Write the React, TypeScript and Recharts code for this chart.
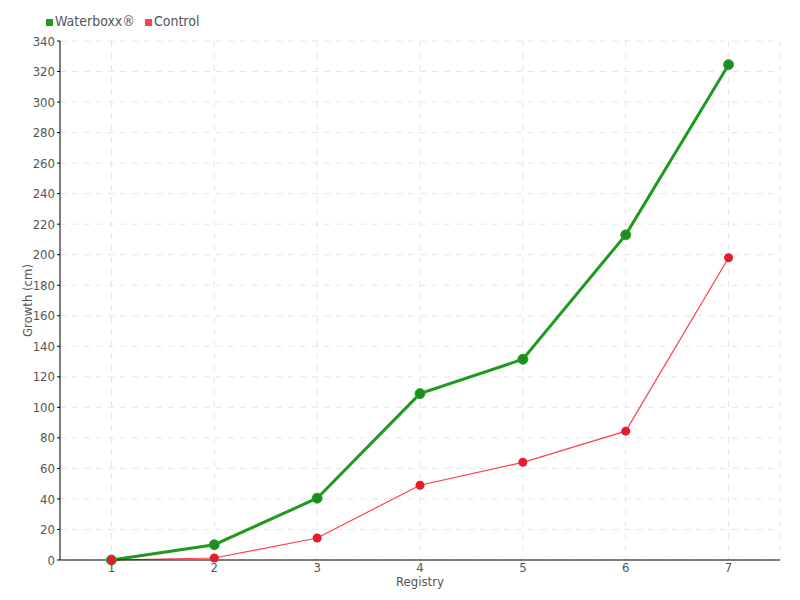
import {
  LineChart,
  Line,
  XAxis,
  YAxis,
  CartesianGrid,
  Legend,
} from "recharts";

const registries = ["1", "2", "3", "4", "5", "6", "7"];
const waterboxx = [0, 10, 40.5, 109, 131.5, 213, 324.5];
const control = [0, 1.3, 14.4, 49, 64, 84.4, 198];
const yTicks = [0, 20, 40, 60, 80, 100, 120, 140, 160, 180, 200, 220, 240, 260, 280, 300, 320, 340];

const FONT = "'DejaVu Sans Condensed', 'DejaVu Sans', sans-serif";
const TEXT = "#555";

const data = registries.map((r, i) => ({
  registry: r,
  waterboxx: waterboxx[i],
  control: control[i],
}));

const legendOrder: Record<string, number> = { waterboxx: 0, control: 1 };

export default function App() {
  return (
    <div style={{ position: "absolute", left: 0, top: 0, width: 800, height: 600, background: "#fff", fontFamily: FONT }}>
      <LineChart
        width={800}
        height={600}
        data={data}
        margin={{ top: 23, right: 20, bottom: 0, left: 0 }}
      >
        <CartesianGrid stroke="#e6e6e6" strokeDasharray="6 6" />
        <XAxis
          dataKey="registry"
          scale="band"
          height={40}
          axisLine={{ stroke: "#000" }}
          tickLine={false}
          tickSize={2}
          tickMargin={1}
          tick={{ fill: TEXT, fontSize: 13, fontFamily: FONT }}
          label={{ value: "Registry", position: "insideBottom", offset: 14, fill: TEXT, fontSize: 13, fontFamily: FONT }}
        />
        <YAxis
          width={60}
          domain={[0, 340]}
          ticks={yTicks}
          interval={0}
          axisLine={{ stroke: "#000" }}
          tickLine={{ stroke: "#000" }}
          tickSize={3}
          tickMargin={2}
          tick={{ fill: TEXT, fontSize: 13, fontFamily: FONT }}
          label={{ value: "Growth (cm)", angle: -90, position: "insideLeft", offset: 27, fill: TEXT, fontSize: 13, fontFamily: FONT, style: { textAnchor: "middle" } }}
        />
        <Legend
          verticalAlign="top"
          align="left"
          iconType="square"
          iconSize={7}
          itemSorter={(item: any) => legendOrder[item.dataKey] ?? 0}
          wrapperStyle={{ left: 46, top: 12, fontSize: 14, fontFamily: FONT, lineHeight: "18px" }}
          formatter={(value) => <span style={{ color: TEXT, marginLeft: -2 }}>{value}</span>}
        />
        <Line
          dataKey="waterboxx"
          name="Waterboxx®"
          type="linear"
          stroke="#1f9a1c"
          strokeWidth={3}
          dot={{ r: 5, fill: "#1e8c1e", stroke: "#2aa82a", strokeWidth: 1 }}
          isAnimationActive={false}
        />
        <Line
          dataKey="control"
          name="Control"
          type="linear"
          stroke="#ff4050"
          strokeWidth={1.2}
          dot={{ r: 4.5, fill: "#e41c2c", stroke: "#e41c2c", strokeWidth: 0 }}
          isAnimationActive={false}
        />
      </LineChart>
    </div>
  );
}
